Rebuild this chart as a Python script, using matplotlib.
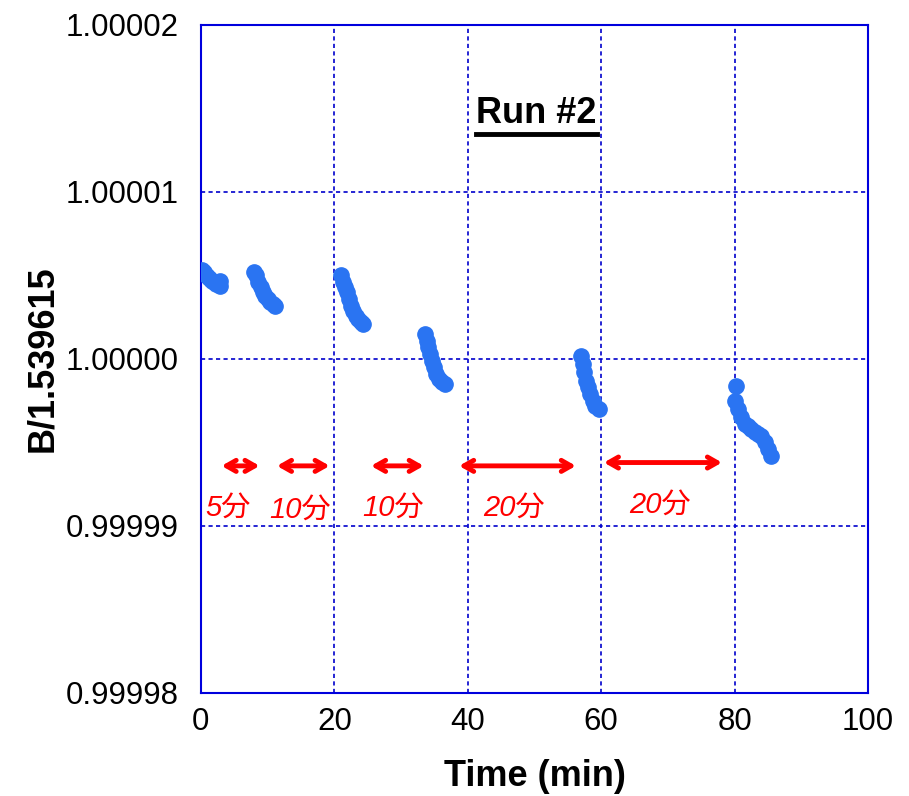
import numpy as np
import matplotlib.pyplot as plt

plt.rcParams['font.family'] = ['Liberation Sans', 'Noto Sans CJK JP', 'DejaVu Sans']

# time (min) and deviation of B/1.539615 from 1 (in units of 1e-6)
t1 = [0.2, 0.5, 0.8, 1.1, 1.4, 1.7, 2.0, 2.3, 2.6, 2.8, 2.9]
d1 = [5.3, 5.2, 5.0, 4.9, 4.8, 4.7, 4.6, 4.5, 4.6, 4.4, 4.7]
t2 = [8.0, 8.3, 8.6, 9.0, 9.3, 9.6, 10.0, 10.4, 10.8, 11.1]
d2 = [5.2, 5.0, 4.6, 4.3, 4.0, 3.8, 3.6, 3.4, 3.3, 3.2]
t3 = [21.0, 21.3, 21.6, 21.9, 22.2, 22.5, 22.8, 23.2, 23.6, 24.0, 24.3]
d3 = [5.0, 4.6, 4.3, 4.0, 3.6, 3.2, 2.9, 2.6, 2.4, 2.2, 2.1]
t4 = [33.6, 33.9, 34.1, 34.4, 34.7, 35.0, 35.3, 35.7, 36.1, 36.6]
d4 = [1.5, 1.1, 0.7, 0.3, -0.1, -0.5, -0.9, -1.2, -1.4, -1.5]
t5 = [57.0, 57.2, 57.4, 57.7, 58.0, 58.3, 58.7, 59.1, 59.6]
d5 = [0.2, -0.3, -0.8, -1.3, -1.7, -2.1, -2.5, -2.8, -3.0]
t6 = [80.2, 80.0, 80.5, 81.0, 81.5, 82.0, 82.5, 83.0, 83.5, 84.0, 84.5, 85.0, 85.5]
d6 = [-1.6, -2.5, -3.0, -3.5, -3.9, -4.0, -4.2, -4.4, -4.5, -4.6, -5.0, -5.4, -5.8]

# interval arrows: start, end, y (deviation 1e-6), label, label x, label y
arr_x0 = [3.1, 11.4, 25.5, 38.7, 60.4]
arr_x1 = [8.8, 19.3, 33.4, 56.2, 78.1]
arr_y = [-6.4, -6.4, -6.4, -6.4, -6.2]
lab = ['5分', '10分', '10分', '20分', '20分']
lab_x = [4.0, 14.8, 28.8, 47.0, 68.8]
lab_y = [-8.9, -9.0, -8.9, -8.9, -8.7]

fig = plt.figure(figsize=(9.09, 7.96), dpi=100)
ax = fig.add_axes([0.221, 0.1294, 0.734, 0.8392])

blue = '#2a74f2'
for t, d in [(t1, d1), (t2, d2), (t3, d3), (t4, d4), (t5, d5), (t6, d6)]:
    y = 1 + np.array(d) * 1e-6
    ax.plot(t, y, 'o', color=blue, ms=11, mec=blue, zorder=3)

for x0, x1, y, s, lx, ly in zip(arr_x0, arr_x1, arr_y, lab, lab_x, lab_y):
    ax.annotate('', xy=(x0, 1 + y * 1e-6), xytext=(x1, 1 + y * 1e-6),
                arrowprops=dict(arrowstyle='<->,head_length=0.7,head_width=0.4',
                                color='red', lw=3.5, shrinkA=0, shrinkB=0))
    ax.text(lx, 1 + ly * 1e-6, s, color='red', fontsize=21, style='italic',
            ha='center', va='center')

title = ax.text(50.3, 1.0000147, 'Run #2', fontsize=26, fontweight='bold',
                ha='center', va='center')

ax.set_xlim(0, 100)
ax.set_ylim(0.99998, 1.00002)
ax.set_xticks([0, 20, 40, 60, 80, 100])
ax.set_yticks([0.99998, 0.99999, 1.0, 1.00001, 1.00002])
ax.set_yticklabels(['0.99998', '0.99999', '1.00000', '1.00001', '1.00002'])
ax.tick_params(labelsize=22.5, length=0)
ax.tick_params(axis='y', pad=16)
ax.tick_params(axis='x', pad=10)
ax.grid(True, color='#0000cc', ls='--', lw=1.2, dashes=(2.5, 2))
for sp in ax.spines.values():
    sp.set_color('#0000dd')
    sp.set_linewidth(1.5)
ax.set_xlabel('Time (min)', fontsize=26, fontweight='bold', labelpad=16)
ax.set_ylabel('B/1.539615', fontsize=26, fontweight='bold', labelpad=4)

# underline the run label
fig.canvas.draw()
bb = title.get_window_extent().transformed(ax.transData.inverted())
ax.plot([bb.x0, bb.x1], [bb.y0 - 0.015e-5, bb.y0 - 0.015e-5], color='black', lw=3.5)

fig.savefig('out.png', dpi=100)
